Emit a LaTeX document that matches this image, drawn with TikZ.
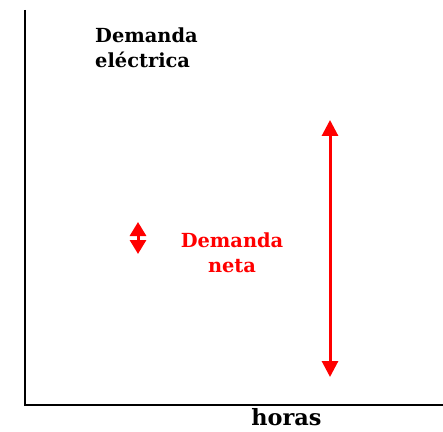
\documentclass[tikz,border=0pt]{standalone}
\usepackage{fontspec}
\setmainfont{DejaVu Serif}
\usetikzlibrary{arrows.meta,positioning}

\begin{document}
\begin{tikzpicture}[
    x=1pt, y=1pt,
    axis/.style={draw=black, line width=1.5pt},
    label/.style={
        inner sep=0pt, font=\fontsize{19.4}{25}\selectfont\bfseries
    },
    bigarrow/.style={
        {Triangle[width=16pt,length=16pt]}-{Triangle[width=16pt,length=16pt]},
        red, line width=3pt
    },
    smallarrow/.style={
        {Triangle[width=16pt,length=14pt]}-{Triangle[width=16pt,length=14pt]},
        red, line width=3pt
    }
]
\useasboundingbox (0,0) rectangle (443,431);

% Ejes
\coordinate (top) at (25,421);
\coordinate (origin) at (25,26);
\coordinate (right) at (443,26);
\draw[axis] (top) -- (origin) -- (right);

% Etiquetas
\node[label, align=left, anchor=base west] (demanda) at (95,363) {Demanda\\el\'ectrica};
\node[label, align=center, anchor=base, red] (neta) at (232,159) {Demanda\\neta};
\node[label, font=\fontsize{22.4}{26}\selectfont\bfseries, anchor=base] (horas) at (286.5,6) {horas};

% Flechas
\coordinate (small top) at (138,209);
\coordinate (small bottom) at (138,177);
\draw[smallarrow] (small bottom) -- (small top);

\coordinate (big top) at (330,311);
\coordinate (big bottom) at (330,54);
\draw[bigarrow] (big bottom) -- (big top);

\end{tikzpicture}
\end{document}
